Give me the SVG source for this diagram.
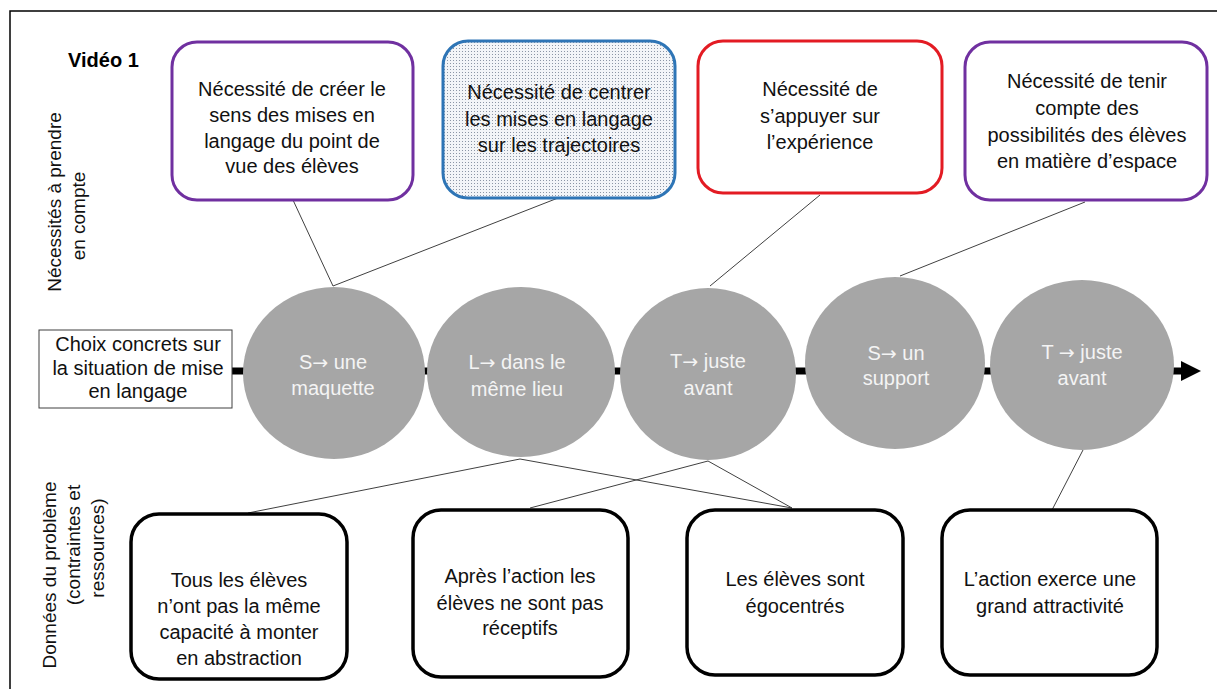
<svg xmlns="http://www.w3.org/2000/svg" width="1217" height="689" viewBox="0 0 1217 689">
<defs>
<pattern id="dots" width="3" height="3" patternUnits="userSpaceOnUse">
<rect width="3" height="3" fill="#F3F5F8"/>
<rect width="1" height="1" fill="#8C96A6"/>
</pattern>
</defs>
<style>
text{font-family:"Liberation Sans",Arial,sans-serif;}
.t{font-size:20px;fill:#111;text-anchor:middle;}
.w{font-size:20px;fill:#F4F4F4;text-anchor:middle;}
.ar{font-family:"DejaVu Sans",sans-serif;font-size:19px;}
.lab{font-size:19px;fill:#111;text-anchor:middle;}
.box{fill:#fff;stroke-width:3;}
.low{fill:#fff;stroke:#000;stroke-width:3.5;}
.circ{fill:#A6A6A6;}
.thin{stroke:#404040;stroke-width:1;fill:none;}
</style>
<rect x="0" y="0" width="1217" height="689" fill="#fff"/>
<rect x="10" y="11" width="1230" height="700" fill="none" stroke="#000" stroke-width="1.5"/>

<g id="titre"><text x="68" y="67" font-size="20" font-weight="bold" fill="#000">Vidéo 1</text></g>

<g id="label-necessites">
<text class="lab" transform="translate(61,202) rotate(-90)">Nécessités à prendre</text>
<text class="lab" transform="translate(85,216) rotate(-90)">en compte</text>
</g>
<g id="label-donnees">
<text class="lab" transform="translate(56,575) rotate(-90)">Données du problème</text>
<text class="lab" transform="translate(80,545) rotate(-90)">(contraintes et</text>
<text class="lab" transform="translate(104,548) rotate(-90)">ressources)</text>
</g>

<g id="connecteurs">
<line x1="232" y1="371" x2="1181" y2="371" stroke="#000" stroke-width="7"/>
<path d="M1181,361 L1201,371 L1181,381 Z" fill="#000"/>
<line class="thin" x1="293" y1="200" x2="333" y2="286"/>
<line class="thin" x1="558" y1="198" x2="333" y2="286"/>
<line class="thin" x1="820" y1="195" x2="710" y2="286"/>
<line class="thin" x1="1085" y1="202" x2="900" y2="276"/>
<line class="thin" x1="520" y1="459" x2="248" y2="513"/>
<line class="thin" x1="520" y1="459" x2="792" y2="508"/>
<line class="thin" x1="708" y1="461" x2="792" y2="508"/>
<line class="thin" x1="708" y1="461" x2="530" y2="508"/>
<line class="thin" x1="1083" y1="450" x2="1052" y2="510"/>
</g>

<g id="n-top1">
<rect class="box" x="172" y="42" width="241" height="158" rx="25" stroke="#7030A0"/>
<text class="t" x="292" y="96">Nécessité de créer le</text>
<text class="t" x="292" y="122">sens des mises en</text>
<text class="t" x="292" y="148">langage du point de</text>
<text class="t" x="292" y="173">vue des élèves</text>
</g>
<g id="n-top2">
<rect x="443" y="41" width="232" height="157" rx="25" fill="url(#dots)" stroke="#2E75B6" stroke-width="3"/>
<text class="t" x="559" y="99">Nécessité de centrer</text>
<text class="t" x="559" y="126">les mises en langage</text>
<text class="t" x="559" y="152">sur les trajectoires</text>
</g>
<g id="n-top3">
<rect class="box" x="698" y="41" width="244" height="152" rx="25" stroke="#E31B23"/>
<text class="t" x="820" y="96">Nécessité de</text>
<text class="t" x="820" y="123">s’appuyer sur</text>
<text class="t" x="820" y="149">l’expérience</text>
</g>
<g id="n-top4">
<rect class="box" x="965" y="42" width="242" height="158" rx="25" stroke="#7030A0"/>
<text class="t" x="1087" y="88">Nécessité de tenir</text>
<text class="t" x="1087" y="115">compte des</text>
<text class="t" x="1087" y="142">possibilités des élèves</text>
<text class="t" x="1087" y="168">en matière d’espace</text>
</g>

<g id="n-choix">
<rect x="39" y="330" width="193" height="78" fill="#fff" stroke="#404040" stroke-width="1"/>
<text class="t" x="138" y="351" font-size="19">Choix concrets sur</text>
<text class="t" x="138" y="375" font-size="19">la situation de mise</text>
<text class="t" x="138" y="398" font-size="19">en langage</text>
</g>

<g id="c1">
<ellipse class="circ" cx="334" cy="373" rx="91" ry="86"/>
<text class="w" x="333" y="369">S<tspan class="ar">→</tspan> une</text>
<text class="w" x="333" y="395">maquette</text>
</g>
<g id="c2">
<ellipse class="circ" cx="521" cy="372" rx="94" ry="85"/>
<text class="w" x="517" y="369">L<tspan class="ar">→</tspan> dans le</text>
<text class="w" x="517" y="396">même lieu</text>
</g>
<g id="c3">
<ellipse class="circ" cx="708" cy="374" rx="88" ry="86"/>
<text class="w" x="708" y="368">T<tspan class="ar">→</tspan> juste</text>
<text class="w" x="708" y="395">avant</text>
</g>
<g id="c4">
<ellipse class="circ" cx="895" cy="363" rx="90" ry="86"/>
<text class="w" x="896" y="360">S<tspan class="ar">→</tspan> un</text>
<text class="w" x="896" y="385">support</text>
</g>
<g id="c5">
<ellipse class="circ" cx="1082" cy="365" rx="92" ry="85"/>
<text class="w" x="1082" y="359">T <tspan class="ar">→</tspan> juste</text>
<text class="w" x="1082" y="385">avant</text>
</g>

<g id="n-bas1">
<rect class="low" x="131" y="514" width="216" height="165" rx="28"/>
<text class="t" x="239" y="587">Tous les élèves</text>
<text class="t" x="239" y="613">n’ont pas la même</text>
<text class="t" x="239" y="639">capacité à monter</text>
<text class="t" x="239" y="665">en abstraction</text>
</g>
<g id="n-bas2">
<rect class="low" x="413" y="510" width="215" height="167" rx="28"/>
<text class="t" x="520" y="583">Après l’action les</text>
<text class="t" x="520" y="610">élèves ne sont pas</text>
<text class="t" x="520" y="635">réceptifs</text>
</g>
<g id="n-bas3">
<rect class="low" x="687" y="510" width="216" height="165" rx="28"/>
<text class="t" x="795" y="586">Les élèves sont</text>
<text class="t" x="795" y="613">égocentrés</text>
</g>
<g id="n-bas4">
<rect class="low" x="942" y="510" width="215" height="165" rx="28"/>
<text class="t" x="1050" y="586">L’action exerce une</text>
<text class="t" x="1050" y="613">grand attractivité</text>
</g>
</svg>
